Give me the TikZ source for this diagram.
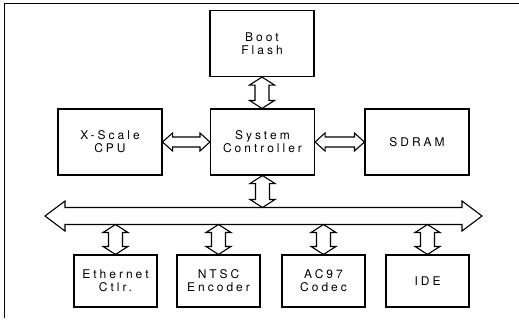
\documentclass[tikz,border=0pt]{standalone}
\usepackage{fontspec}
\setmainfont{TeX Gyre Heros}[LetterSpace=25]
\usetikzlibrary{calc}

% Horizontal double-headed block arrow from #1 (left) to #2 (right):
% #3 shaft half-width, #4 head half-width, #5 head length (all in pt)
\newcommand\hbiarrow[5]{%
  \draw[blockarrow] let \p1=(#1), \p2=(#2) in
    (\x1,\y1) -- ({\x1+#5pt},{\y1+#4pt}) -- ({\x1+#5pt},{\y1+#3pt})
    -- ({\x2-#5pt},{\y1+#3pt}) -- ({\x2-#5pt},{\y1+#4pt}) -- (\x2,\y1)
    -- ({\x2-#5pt},{\y1-#4pt}) -- ({\x2-#5pt},{\y1-#3pt})
    -- ({\x1+#5pt},{\y1-#3pt}) -- ({\x1+#5pt},{\y1-#4pt}) -- cycle;}
% Vertical double-headed block arrow from #1 (top) to #2 (bottom)
\newcommand\vbiarrow[5]{%
  \draw[blockarrow] let \p1=(#1), \p2=(#2) in
    (\x1,\y1) -- ({\x1+#4pt},{\y1-#5pt}) -- ({\x1+#3pt},{\y1-#5pt})
    -- ({\x1+#3pt},{\y2+#5pt}) -- ({\x1+#4pt},{\y2+#5pt}) -- (\x1,\y2)
    -- ({\x1-#4pt},{\y2+#5pt}) -- ({\x1-#3pt},{\y2+#5pt})
    -- ({\x1-#3pt},{\y1-#5pt}) -- ({\x1-#4pt},{\y1-#5pt}) -- cycle;}
\newcommand\hlink[2]{\hbiarrow{#1}{#2}{5}{9}{10}}
\newcommand\vlink[2]{\vbiarrow{#1}{#2}{7}{12.5}{8}}

\begin{document}
\begin{tikzpicture}[x=1pt,y=-1pt,
  blockarrow/.style={draw=black, line width=1.1pt, line join=miter},
  frame/.style={draw=black, line width=1pt},
  box/.style={draw=black, line width=1.1pt, minimum width=104pt,
    minimum height=66pt, inner sep=0pt, align=center,
    font=\fontsize{12}{13}\selectfont},
  smallbox/.style={box, minimum width=83pt, minimum height=52pt}]
\useasboundingbox (0,0) rectangle (519,321);

% page frame
\draw[frame] (4.5,318) -- (4.5,3.5) -- (519,3.5);

% blocks
\node[box] (boot)  at (262,43.5)  {Boot\\Flash};
\node[box] (cpu)   at (110,142)   {X-Scale\\CPU};
\node[box] (sc)    at (262.5,142) {System\\Controller};
\node[box] (sdram) at (417,142)   {SDRAM};
\node[smallbox] (eth)  at (115.5,281) {Ethernet\\Ctlr.};
\node[smallbox] (ntsc) at (218.5,281) {NTSC\\Encoder};
\node[smallbox] (ac97) at (323.5,281) {AC97\\Codec};
\node[smallbox] (ide)  at (427.5,281) {IDE};

% system bus
\coordinate (busL) at (45,216);
\coordinate (busR) at (482,216);
\coordinate (bustop) at (0,207.5);
\coordinate (busbot) at (0,224.5);
\hbiarrow{busL}{busR}{8.5}{15}{20}

% links
\vlink{boot.south}{sc.north}
\hlink{cpu.east}{sc.west}
\hlink{sc.east}{sdram.west}
\vlink{sc.south}{sc.south |- bustop}
\vlink{eth.north |- busbot}{eth.north}
\vlink{ntsc.north |- busbot}{ntsc.north}
\vlink{ac97.north |- busbot}{ac97.north}
\vlink{ide.north |- busbot}{ide.north}
\end{tikzpicture}
\end{document}
